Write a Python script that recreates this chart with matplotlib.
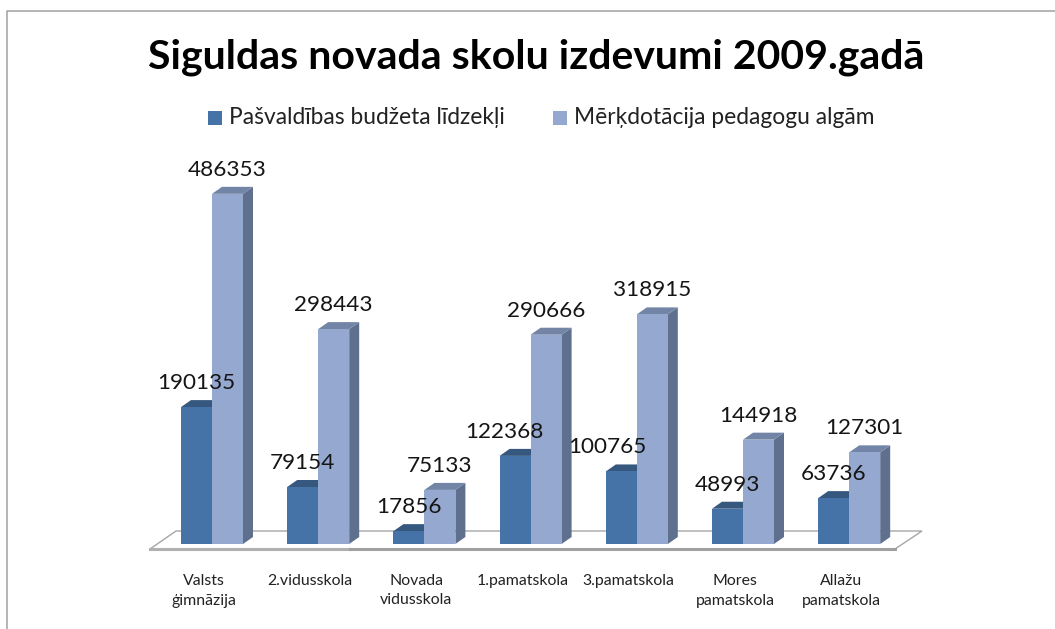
"""
Grouped pseudo-3D column chart of school spending in Sigulda county, 2009.
"""

import matplotlib
matplotlib.use('Agg')
import matplotlib.pyplot as plt
from matplotlib.lines import Line2D
from matplotlib.patches import Polygon, Rectangle

plt.rcParams['font.family'] = ['Lato', 'DejaVu Sans']

title = 'Siguldas novada skolu izdevumi 2009.gadā'
categories = ['Valsts\nģimnāzija', '2.vidusskola', 'Novada\nvidusskola', '1.pamatskola',
              '3.pamatskola', 'Mores\npamatskola', 'Allažu\npamatskola']
series_names = ['Pašvaldības budžeta līdzekļi', 'Mērķdotācija pedagogu algām']
municipal = [190135, 79154, 17856, 122368, 100765, 48993, 63736]
teachers = [486353, 298443, 75133, 290666, 318915, 144918, 127301]

# Pixel calibration of the picture
WIDTH, HEIGHT = 1055, 629
X0, X_STEP = 212.0, 106.2   # px of first group centre, px per category
Y0, Y_SCALE = 544.0, 0.00072   # px of baseline, px per value


def px_x(x):
    return (x - X0) / X_STEP


def px_y(y):
    return (Y0 - y) / Y_SCALE


BAR_W = 31 / X_STEP
DX = 10 / X_STEP
DY = 7 / Y_SCALE
LABEL_GAP = 24 / Y_SCALE
TICK_SHIFT = 8 / X_STEP
# These two labels sit left of their bars in the original (px)
LABEL_NUDGE = {3: -11, 4: -14}


def draw_bar(ax, left, value, front, top, side):
    right = left + BAR_W
    ax.add_patch(Polygon([(right, 0), (right + DX, DY), (right + DX, value + DY), (right, value)],
                         facecolor=side, edgecolor='none', zorder=3))
    ax.add_patch(Polygon([(left, value), (right, value), (right + DX, value + DY), (left + DX, value + DY)],
                         facecolor=top, edgecolor='none', zorder=3))
    ax.bar(left, value, width=BAR_W, align='edge', color=front, zorder=4)


fig = plt.figure(figsize=(WIDTH / 100, HEIGHT / 100), dpi=100)
ax = fig.add_axes([0, 0, 1, 1])
ax.set_xlim(px_x(0), px_x(WIDTH))
ax.set_ylim(px_y(HEIGHT), px_y(0))
ax.axis('off')

# Outer frame: only left and top edges show
fig.add_artist(Line2D([6.5 / WIDTH, 6.5 / WIDTH, 1], [0, 1 - 10.5 / HEIGHT, 1 - 10.5 / HEIGHT],
                      color='#a0a0a0', lw=1.1))

# Floor
floor = [(px_x(150), px_y(549)), (px_x(895), px_y(549)), (px_x(922), px_y(531)), (px_x(176), px_y(531))]
ax.add_patch(Polygon(floor, closed=True, facecolor='white', edgecolor='#a6a6a6', lw=1.0, zorder=1))
ax.plot([px_x(150), px_x(350)], [px_y(549), px_y(549)], color='#b0b0b0', lw=2.2, zorder=2)
ax.plot([px_x(350), px_x(895)], [px_y(549), px_y(549)], color='#a0a0a0', lw=2.2, zorder=2)

for i, (a, b) in enumerate(zip(municipal, teachers)):
    draw_bar(ax, i - BAR_W, a, '#4572a7', '#36587f', '#36587f')
    draw_bar(ax, i, b, '#95a9d0', '#7285a6', '#5f6f8e')
    nudge = LABEL_NUDGE.get(i, 0) / X_STEP
    ax.text(i - BAR_W / 2 + nudge, a + LABEL_GAP, str(a), ha='center', va='center', fontsize=16.2,
            color='#151515', zorder=6)
    ax.text(i + BAR_W / 2, b + LABEL_GAP, str(b), ha='center', va='center', fontsize=16.2,
            color='#151515', zorder=6)
    ax.text(i - TICK_SHIFT, px_y(574), categories[i], ha='center', va='top', fontsize=11.4,
            color='#222222', linespacing=1.5, zorder=6)

ax.text(px_x(536), px_y(57), title, ha='center', va='center', fontsize=29.5, fontweight='bold',
        color='black')

# Legend
for name, color, x_box in zip(series_names, ['#4572a7', '#95a9d0'], [208, 553]):
    ax.add_patch(Rectangle((px_x(x_box), px_y(125)), 14 / X_STEP, 14 / Y_SCALE, facecolor=color,
                           edgecolor='none'))
    ax.text(px_x(x_box + 21), px_y(117), name, ha='left', va='center', fontsize=16.4, color='#222222')

fig.savefig('out.png', dpi=100)
plt.close(fig)
